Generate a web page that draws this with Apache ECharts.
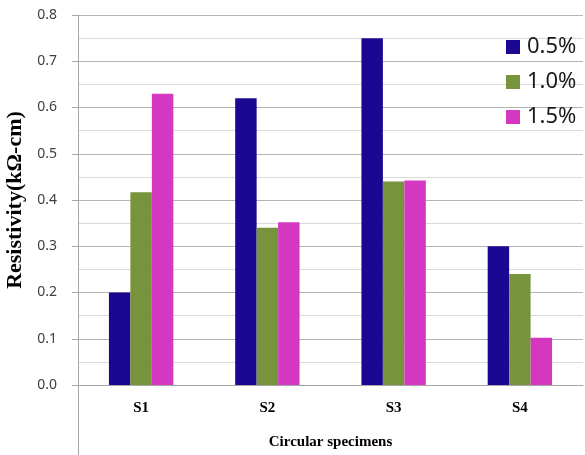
<!DOCTYPE html>
<html><head><meta charset="utf-8">
<script src="https://cdn.jsdelivr.net/npm/echarts@6/dist/echarts.min.js"></script>
<style>html,body{margin:0;padding:0;background:#fff}#c{width:585px;height:455px}</style>
</head><body><div id="c"></div>
<script>
const categories = ['S1', 'S2', 'S3', 'S4'];
const seriesNames = ['0.5%', '1.0%', '1.5%'];
const v05 = [0.20, 0.62, 0.75, 0.30];
const v10 = [0.417, 0.34, 0.44, 0.24];
const v15 = [0.63, 0.352, 0.442, 0.102];
const yTicks = [0, 0.1, 0.2, 0.3, 0.4, 0.5, 0.6, 0.7, 0.8];

const colors = ['#1b0892', '#77933c', '#d538c0'];
const chart = echarts.init(document.getElementById('c'), null, {renderer: 'canvas'});
const mk = (name, data, i) => ({
  name, type: 'bar', data, barGap: '0%', barCategoryGap: '49%',
  itemStyle: {color: colors[i]}
});
chart.setOption({
  animation: false,
  grid: {left: 78, right: 2, top: 15, bottom: 70, containLabel: false, outerBoundsMode: 'none'},
  legend: {
    orient: 'vertical', left: 501, top: 31, padding: 5, itemWidth: 14, itemHeight: 14, itemGap: 13,
    icon: 'rect', data: seriesNames,
    textStyle: {fontSize: 22, fontFamily: 'Noto Sans', color: '#1a1a1a', padding: [0, 0, 0, 2]}
  },
  xAxis: {
    type: 'category', data: categories,
    axisLine: {lineStyle: {color: '#a6a6a6', width: 1}},
    axisTick: {show: false},
    axisLabel: {fontFamily: 'Liberation Serif', fontWeight: 'bold', fontSize: 15, color: '#000', margin: 16},
    name: 'Circular specimens', nameLocation: 'middle', nameGap: 50,
    nameTextStyle: {fontFamily: 'Liberation Serif', fontWeight: 'bold', fontSize: 15, color: '#000'}
  },
  yAxis: {
    type: 'value', min: 0, max: 0.8, interval: 0.1,
    axisLine: {show: true, lineStyle: {color: '#a6a6a6'}},
    axisTick: {show: true, length: 6, lineStyle: {color: '#a6a6a6'}},
    axisLabel: {fontFamily: 'Noto Sans', fontSize: 14, color: '#404040', margin: 21,
      formatter: v => yTicks.find(t => Math.abs(t - v) < 1e-9).toFixed(1)},
    splitLine: {show: true, lineStyle: {color: '#b4b4b4'}},
    minorTick: {show: false, splitNumber: 2},
    minorSplitLine: {show: true, lineStyle: {color: '#dadada'}},
    name: 'Resistivity(kΩ-cm)', nameLocation: 'middle', nameGap: 50,
    nameTextStyle: {fontFamily: 'Liberation Serif', fontWeight: 'bold', fontSize: 22, color: '#000'}
  },
  graphic: [{
    type: 'line', shape: {x1: 78.5, y1: 385, x2: 78.5, y2: 455},
    style: {stroke: '#a6a6a6', lineWidth: 1}, silent: true
  }],
  series: [mk(seriesNames[0], v05, 0), mk(seriesNames[1], v10, 1), mk(seriesNames[2], v15, 2)]
});
</script></body></html>
